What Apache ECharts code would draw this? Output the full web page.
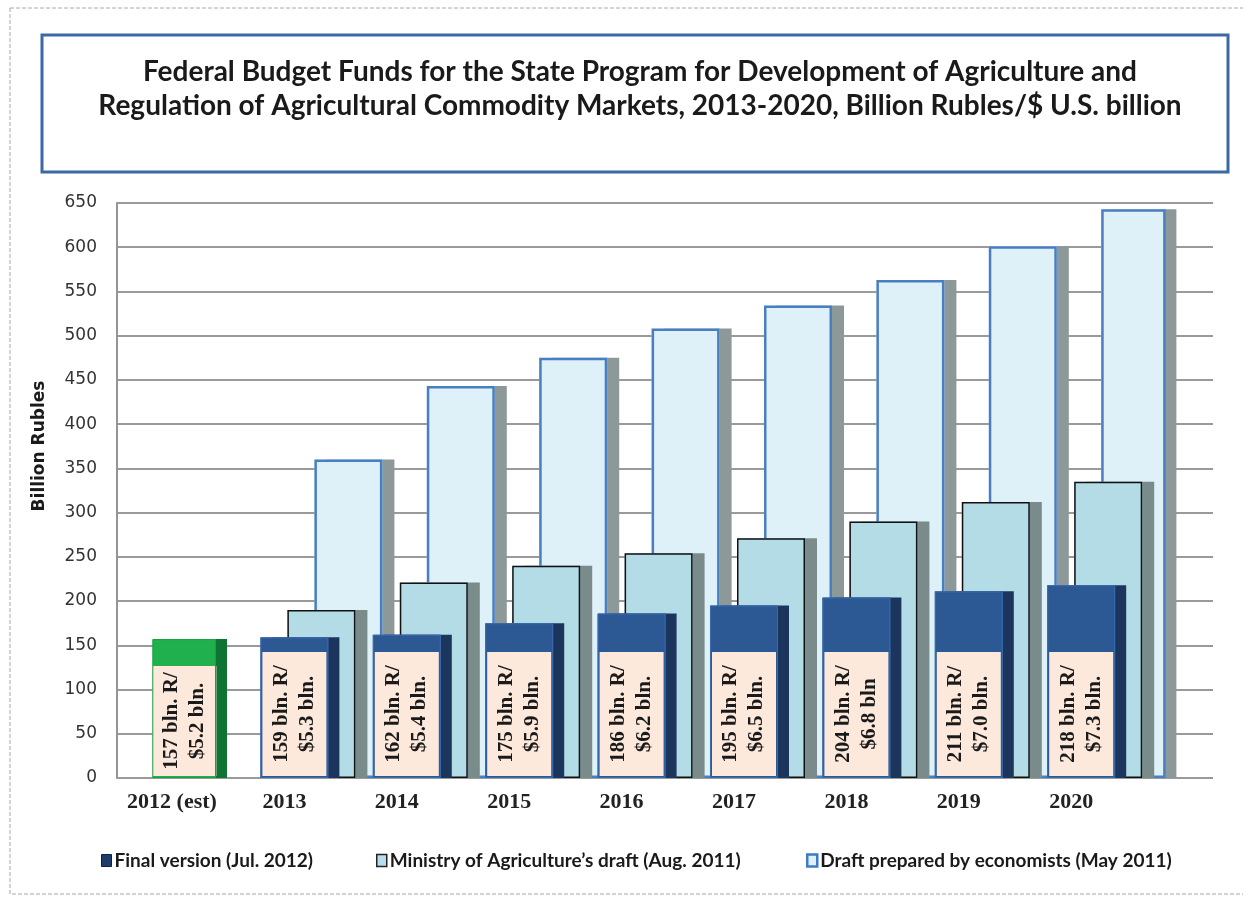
<!DOCTYPE html>
<html><head><meta charset="utf-8">
<script src="https://cdn.jsdelivr.net/npm/echarts@6/dist/echarts.min.js"></script>
<style>html,body{margin:0;padding:0;background:#fff}#c{width:1243px;height:904px}</style>
</head><body><div id="c"></div>
<script>
// ---- data ----
const categories = ['2012 (est)', '2013', '2014', '2015', '2016', '2017', '2018', '2019', '2020'];
const finalVersion = [157, 159, 162, 175, 186, 195, 204, 211, 218];
const finalUsd = ['$5.2 bln.', '$5.3 bln.', '$5.4 bln.', '$5.9 bln.', '$6.2 bln.', '$6.5 bln.', '$6.8 bln', '$7.0 bln.', '$7.3 bln.'];
const ministryDraft = [null, 190, 221, 240, 254, 271, 290, 312, 335];
const economistsDraft = [null, 360, 443, 475, 508, 534, 563, 601, 643];
const seriesNames = ['Final version (Jul. 2012)', 'Ministry of Agriculture\u2019s draft (Aug. 2011)', 'Draft prepared by economists (May 2011)'];
const yMin = 0, yMax = 650, yStep = 50;
const titleText = 'Federal Budget Funds for the State Program for Development of Agriculture and\nRegulation of Agricultural Commodity Markets, 2013-2020, Billion Rubles/$ U.S. billion';
const yTitle = 'Billion Rubles';

// ---- layout / style ----
const TOP = 203, BOTTOM = 126;
const BAND = 112.4, LABEL_LEFT = 115.8, BAR_SHIFT = 37;
const BAR_W = 68, STEP = 27;
const barGap = ((STEP / BAR_W - 1) * 100).toFixed(2) + '%';
const serifFont = 'Liberation Serif';
const sansFont = 'Lato';

const styles = [
  {fill: '#2c5993', border: '#3a6cb2', bw: 1, strip: '#1b355c', off: 11},
  {fill: '#b4dce6', border: '#111111', bw: 1.5, strip: '#7a8b8b', off: 12},
  {fill: '#def1f8', border: '#4a7ec2', bw: 2.5, strip: '#8d9898', off: 12}
];
const green = {fill: '#20b04d', border: '#19a043', strip: '#0d7434'};
const seriesData = [finalVersion, ministryDraft, economistsDraft];
const zOrder = [4, 3, 2];

const labelText = {fontFamily: serifFont, fontWeight: 'bold', fontSize: 21, lineHeight: 26, color: '#1a1a1a', align: 'center'};

function fillData(k) {
  return seriesData[k].map((v, i) => {
    if (k === 0 && i === 0) {
      return {value: v, itemStyle: {color: green.fill, shadowColor: green.strip}, label: {width: 104}};
    }
    return v;
  });
}
function borderData(k) {
  return seriesData[k].map((v, i) => {
    if (k === 0 && i === 0) return {value: v, itemStyle: {borderColor: green.border}};
    return v;
  });
}

const series = [];
[0, 1, 2].forEach((k) => {
  const st = styles[k];
  const s = {
    name: seriesNames[k], type: 'bar', xAxisIndex: 2, yAxisIndex: 2, z: zOrder[k],
    barWidth: BAR_W, barGap: barGap,
    data: fillData(k),
    emphasis: {disabled: true},
    itemStyle: {color: st.fill, borderWidth: 0, shadowColor: st.strip, shadowOffsetX: st.off, shadowBlur: 0}
  };
  if (k === 0) {
    s.label = {
      show: true, position: 'insideBottom', distance: 2, rotate: 90,
      align: 'left', verticalAlign: 'middle',
      width: 118, padding: [6, 3],
      backgroundColor: '#fde8dc',
      fontFamily: serifFont, fontWeight: 'bold', fontSize: 21, lineHeight: 26, color: '#1a1a1a',
      formatter: (p) => '{a|' + p.value + ' bln. R/}\n{a|' + finalUsd[p.dataIndex] + '}',
      rich: {a: labelText}
    };
  }
  series.push(s);
});
[0, 1, 2].forEach((k) => {
  const st = styles[k];
  series.push({
    name: seriesNames[k] + ' outline', type: 'bar', xAxisIndex: 3, yAxisIndex: 3, z: zOrder[k] + 0.5,
    barWidth: BAR_W, barGap: barGap,
    data: borderData(k),
    emphasis: {disabled: true}, silent: true,
    itemStyle: {color: 'rgba(0,0,0,0)', borderColor: st.border, borderWidth: st.bw}
  });
});

const chart = echarts.init(document.getElementById('c'), null, {renderer: 'canvas'});
chart.setOption({
  animation: false,
  backgroundColor: '#ffffff',
  title: {
    text: titleText, left: 635, top: 50, textAlign: 'center',
    textStyle: {fontFamily: sansFont, fontWeight: 'bold', fontSize: 28, lineHeight: 34, color: '#1a1a1a'}
  },
  graphic: [
    {type: 'rect', shape: {x: 10, y: 8, width: 1240, height: 886}, style: {fill: 'none', stroke: '#a8a8a8', lineWidth: 1, lineDash: [4, 2]}, silent: true, z: -1},
    {type: 'rect', shape: {x: 42, y: 35, width: 1186, height: 137}, style: {fill: 'none', stroke: '#3d68a6', lineWidth: 3}, silent: true},
    {type: 'text', x: 40, y: 446, rotation: Math.PI / 2, style: {text: yTitle, fontFamily: 'DejaVu Sans', fontWeight: 'bold', fontSize: 17, fill: '#1a1a1a', align: 'center', verticalAlign: 'middle'}, silent: true}
  ],
  legend: [0, 1, 2].map((k) => ({
    left: [96, 371, 801][k], top: 846,
    selectedMode: false, itemWidth: 10, itemHeight: 12, itemGap: 0,
    icon: 'rect',
    textStyle: {fontFamily: sansFont, fontWeight: 'bold', fontSize: 19, color: '#1a1a1a', padding: [0, 0, 0, -2]},
    data: [{
      name: seriesNames[k],
      itemStyle: [
        {color: '#1f3b69', borderColor: '#0f2142', borderWidth: 1, shadowColor: 'transparent', shadowOffsetX: 0},
        {color: '#b6deea', borderColor: '#222', borderWidth: 1.5, shadowColor: 'transparent', shadowOffsetX: 0},
        {color: '#dff1f8', borderColor: '#3f7ac4', borderWidth: 2.5, shadowColor: 'transparent', shadowOffsetX: 0}
      ][k]
    }]
  })),
  grid: [
    {left: 117, right: 30, top: TOP, bottom: BOTTOM},
    {left: LABEL_LEFT, width: BAND * categories.length, top: TOP, bottom: BOTTOM},
    {left: LABEL_LEFT + BAR_SHIFT, width: BAND * categories.length, top: TOP, bottom: BOTTOM},
    {left: LABEL_LEFT + BAR_SHIFT, width: BAND * categories.length, top: TOP, bottom: BOTTOM}
  ],
  xAxis: [
    {gridIndex: 0, type: 'value', min: 0, max: 1, show: false},
    {gridIndex: 1, type: 'category', data: categories, axisLine: {show: false}, axisTick: {show: false},
      axisLabel: {interval: 0, hideOverlap: false, margin: 13, fontFamily: serifFont, fontWeight: 'bold', fontSize: 22, color: '#222'}},
    {gridIndex: 2, type: 'category', data: categories, show: false},
    {gridIndex: 3, type: 'category', data: categories, show: false}
  ],
  yAxis: [
    {gridIndex: 0, type: 'value', min: yMin, max: yMax, interval: yStep,
      axisLine: {show: true, lineStyle: {color: '#959595', width: 2}},
      axisTick: {show: false},
      splitLine: {show: true, lineStyle: {color: '#9a9a9a', width: 2}},
      axisLabel: {margin: 20, fontFamily: 'DejaVu Sans', fontSize: 17, color: '#333'}},
    {gridIndex: 1, type: 'value', min: yMin, max: yMax, show: false},
    {gridIndex: 2, type: 'value', min: yMin, max: yMax, show: false},
    {gridIndex: 3, type: 'value', min: yMin, max: yMax, show: false}
  ],
  series: series
});
</script>
</body></html>
